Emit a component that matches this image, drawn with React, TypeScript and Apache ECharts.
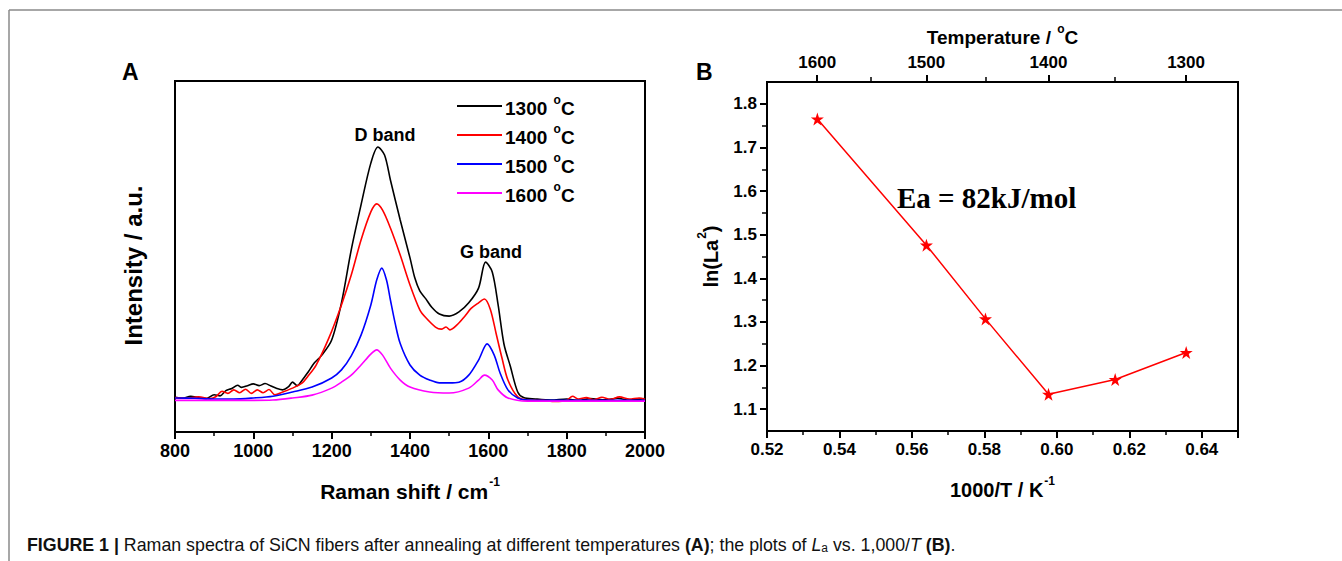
import React, { useEffect, useRef } from "react";
import * as echarts from "echarts";

// ---------- Panel A: Raman spectra (Raman shift cm-1, intensity a.u.) ----------
const spectrum1300: [number, number][] = [
  [800, 9.9], [820, 9.6], [840, 10.2], [860, 9.8], [880, 9.5], [900, 10.6], [915, 10.3],
  [930, 11.8], [945, 12.4], [960, 13.3], [970, 12.7], [985, 13.2], [1000, 13.7], [1015, 13.2],
  [1030, 13.8], [1045, 13.1], [1060, 12.4], [1075, 12.0], [1090, 12.9], [1100, 14.2],
  [1112, 13.2], [1125, 14.8], [1140, 17.1], [1156, 19.7], [1175, 21.9], [1200, 26.2],
  [1225, 36.8], [1250, 51.9], [1275, 64.7], [1300, 76.6], [1318, 81.2], [1335, 78.9],
  [1350, 71.8], [1375, 60.4], [1400, 49.6], [1412, 44.0], [1425, 40.2], [1440, 38.0],
  [1455, 35.6], [1475, 33.6], [1500, 33.0], [1525, 34.2], [1550, 36.8], [1575, 41.0],
  [1593, 48.4], [1610, 45.6], [1625, 36.2], [1640, 25.0], [1656, 18.8], [1675, 11.4],
  [1690, 9.8], [1720, 9.4], [1760, 9.1], [1800, 9.4], [1830, 9.0], [1860, 9.5],
  [1900, 9.2], [1930, 9.6], [1960, 9.1], [2000, 9.5]
];
const spectrum1400: [number, number][] = [
  [800, 9.8], [830, 9.6], [860, 10.0], [890, 9.5], [905, 10.1], [920, 11.6], [935, 11.0],
  [950, 12.0], [965, 11.2], [980, 12.2], [995, 11.0], [1010, 12.0], [1025, 11.2], [1040, 12.1],
  [1055, 10.6], [1075, 11.4], [1100, 12.5], [1125, 14.0], [1138, 15.7], [1160, 19.0],
  [1193, 26.8], [1225, 36.2], [1250, 44.7], [1275, 54.7], [1300, 62.7], [1315, 65.0],
  [1330, 63.2], [1350, 58.1], [1375, 50.4], [1400, 41.9], [1425, 34.8], [1440, 32.6],
  [1465, 29.9], [1480, 29.3], [1492, 29.9], [1502, 29.1], [1520, 30.5], [1540, 33.0],
  [1556, 35.2], [1575, 36.8], [1590, 37.9], [1605, 35.0], [1620, 28.0], [1635, 21.0],
  [1650, 14.8], [1675, 10.0], [1700, 9.1], [1740, 9.0], [1770, 8.7], [1800, 9.0],
  [1815, 10.2], [1830, 9.4], [1850, 9.8], [1870, 9.2], [1890, 9.9], [1910, 9.3],
  [1935, 10.0], [1960, 9.4], [1985, 9.7], [2000, 9.3]
];
const spectrum1500: [number, number][] = [
  [800, 9.7], [850, 9.6], [900, 9.4], [950, 9.4], [1000, 9.7], [1050, 10.2], [1100, 11.4],
  [1150, 12.8], [1200, 15.4], [1225, 17.7], [1250, 21.7], [1275, 27.6], [1300, 36.2],
  [1315, 43.3], [1328, 46.7], [1340, 43.3], [1350, 37.6], [1362, 31.0], [1375, 25.2],
  [1400, 19.1], [1425, 16.2], [1450, 14.8], [1475, 14.0], [1500, 14.0], [1525, 14.2],
  [1550, 16.2], [1575, 20.5], [1597, 25.1], [1615, 21.9], [1630, 16.8], [1650, 12.0],
  [1675, 9.7], [1700, 9.1], [1800, 9.0], [1900, 9.0], [2000, 9.0]
];
const spectrum1600: [number, number][] = [
  [800, 9.0], [900, 9.0], [1000, 9.0], [1050, 9.1], [1100, 9.7], [1150, 10.5], [1200, 12.5],
  [1225, 14.2], [1250, 16.2], [1275, 19.1], [1300, 22.2], [1315, 23.4], [1330, 21.9],
  [1350, 18.2], [1375, 14.8], [1400, 12.8], [1450, 11.4], [1500, 11.1], [1550, 12.5],
  [1575, 14.8], [1590, 16.2], [1610, 14.8], [1625, 12.0], [1650, 9.7], [1700, 8.8],
  [1800, 8.8], [1900, 8.8], [2000, 8.8]
];
const spectraNames = ["1300", "1400", "1500", "1600"];
const spectraColors = ["#000000", "#ff0000", "#0000ff", "#ff00ff"];
const ramanTicks = [800, 1000, 1200, 1400, 1600, 1800, 2000];

// ---------- Panel B: ln(La^2) vs 1000/T ----------
const inverseT = [0.5339, 0.564, 0.5803, 0.5977, 0.6161, 0.6357];
const lnLa2 = [1.765, 1.476, 1.307, 1.134, 1.168, 1.23];
const lnTicks = [1.1, 1.2, 1.3, 1.4, 1.5, 1.6, 1.7, 1.8];
const lnMinorTicks = [1.15, 1.25, 1.35, 1.45, 1.55, 1.65, 1.75];
const tempTicks = [1600, 1500, 1400, 1300];
const tempMinorTicks = [1550, 1450, 1350];

const toInv = (t: number) => 1000 / (t + 273.15);

const SANS = '"Liberation Sans", Arial, sans-serif';
const SERIF = '"Liberation Serif", "Times New Roman", serif';
const STAR = "path://M50,0 L61.8,35.3 L98.9,35.3 L68.9,57.1 L80.3,92.6 L50,70.7 L19.7,92.6 L31.1,57.1 L1.1,35.3 L38.2,35.3 Z";

export default function App() {
  const ref = useRef<HTMLDivElement>(null);
  useEffect(() => {
    document.body.style.margin = "0";
    const chart = echarts.init(ref.current!, undefined, { renderer: "svg" });
    const black = "#000";
    const lbl = (size: number) => ({ color: black, fontWeight: "bold" as const, fontSize: size, fontFamily: SANS });
    const supRich = (size: number, supSize: number) => ({
      n: { fontSize: size, fontWeight: "bold", fontFamily: SANS, color: black, lineHeight: size + 2, verticalAlign: "bottom" },
      s: { fontSize: supSize, fontWeight: "bold", fontFamily: SANS, color: black, lineHeight: size + 5, verticalAlign: "top", padding: [0, 0, 0, 1] },
    });

    const option: any = {
      animation: false,
      backgroundColor: "#fff",
      grid: [
        { left: 175, top: 81, width: 470, height: 351, show: true, borderColor: black, borderWidth: 2, backgroundColor: "transparent" },
        { left: 767, top: 82, width: 471, height: 349, show: true, borderColor: black, borderWidth: 2, backgroundColor: "transparent" },
      ],
      xAxis: [
        {
          gridIndex: 0, type: "value", min: 800, max: 2000, interval: 200,
          axisLine: { lineStyle: { color: black, width: 2 } },
          axisTick: { length: 7, lineStyle: { color: black, width: 2 } },
          minorTick: { show: true, splitNumber: 2, length: 4, lineStyle: { color: black, width: 1.5 } },
          splitLine: { show: false },
          axisLabel: { ...lbl(18), margin: 10, formatter: (v: number) => (ramanTicks.includes(v) ? String(v) : "") },
          name: "{n|Raman shift / cm}{s|-1}", nameLocation: "middle", nameGap: 44,
          nameTextStyle: { rich: supRich(21, 12) },
        },
        {
          gridIndex: 1, type: "value", min: 0.52, max: 0.65, interval: 0.02,
          axisLine: { lineStyle: { color: black, width: 2 } },
          axisTick: { length: 7, lineStyle: { color: black, width: 2 } },
          minorTick: { show: true, splitNumber: 2, length: 4, lineStyle: { color: black, width: 1.5 } },
          splitLine: { show: false },
          axisLabel: { ...lbl(17), margin: 10, formatter: (v: number) => v.toFixed(2), showMaxLabel: false },
          name: "{n|1000/T / K}{s|-1}", nameLocation: "middle", nameGap: 44,
          nameTextStyle: { rich: supRich(20, 12) },
        },
        {
          gridIndex: 1, type: "value", position: "top", min: 0.52, max: 0.65,
          axisLine: { show: true, lineStyle: { color: black, width: 2 } },
          axisTick: { length: 7, customValues: tempTicks.map(toInv), lineStyle: { color: black, width: 2 } },
          splitLine: { show: false },
          axisLabel: {
            ...lbl(17), margin: 11, customValues: tempTicks.map(toInv),
            formatter: (v: number) => String(Math.round((1000 / v - 273.15) / 10) * 10),
          },
          name: "{n|Temperature / }{s|o}{n|C}", nameLocation: "middle", nameGap: 35,
          nameTextStyle: { rich: supRich(19, 12) },
        },
        {
          gridIndex: 1, type: "value", position: "top", min: 0.52, max: 0.65,
          axisLine: { show: false },
          axisTick: { length: 5, customValues: tempMinorTicks.map(toInv), lineStyle: { color: black, width: 1.5 } },
          splitLine: { show: false },
          axisLabel: { show: false },
        },
      ],
      yAxis: [
        {
          gridIndex: 0, type: "value", min: 0, max: 100,
          axisLine: { lineStyle: { color: black, width: 2 } },
          axisTick: { show: false }, axisLabel: { show: false }, splitLine: { show: false },
          name: "Intensity / a.u.", nameLocation: "middle", nameGap: 30,
          nameTextStyle: { ...lbl(24), padding: [0, 18, 0, 0] },
        },
        {
          gridIndex: 1, type: "value", min: 1.05, max: 1.85, position: "left",
          axisLine: { lineStyle: { color: black, width: 2 } },
          axisTick: { length: 7, customValues: lnTicks, lineStyle: { color: black, width: 2 } },
          splitLine: { show: false },
          axisLabel: { ...lbl(17), margin: 10, customValues: lnTicks, formatter: (v: number) => v.toFixed(1) },
          name: "{n|ln(La}{s|2}{n|)}", nameLocation: "middle", nameGap: 46,
          nameTextStyle: { rich: supRich(20, 12) },
        },
        {
          gridIndex: 1, type: "value", min: 1.05, max: 1.85, position: "left", offset: 0,
          axisLine: { show: false },
          axisTick: { length: 5, customValues: lnMinorTicks, lineStyle: { color: black, width: 1.5 } },
          splitLine: { show: false }, axisLabel: { show: false },
        },
      ],
      legend: {
        left: 452, top: 89, orient: "vertical", itemWidth: 45, itemHeight: 2, itemGap: 5,
        icon: "rect",
        data: spectraNames.map((n) => n + " °C"),
        formatter: (name: string) => `{n|${name.split(" ")[0]} }{s|o}{n|C}`,
        textStyle: { rich: supRich(19, 12), padding: [0, 0, 0, -2] },
      },
      series: [
        ...[spectrum1300, spectrum1400, spectrum1500, spectrum1600].map((d, i) => ({
          type: "line", name: spectraNames[i] + " °C", xAxisIndex: 0, yAxisIndex: 0,
          data: d, showSymbol: false, symbol: "none", smooth: 0.3,
          lineStyle: { color: spectraColors[i], width: 1.6 }, itemStyle: { color: spectraColors[i] },
        })),
        {
          type: "line", name: "lnLa2", xAxisIndex: 1, yAxisIndex: 1,
          data: inverseT.map((x, i) => [x, lnLa2[i]]),
          symbol: STAR, symbolSize: 13,
          lineStyle: { color: "#ff0000", width: 1.5 }, itemStyle: { color: "#ff0000" },
        },
      ],
      graphic: [
        { type: "line", shape: { x1: 9, y1: 10, x2: 1342, y2: 10 }, style: { stroke: "#8a8a8a", lineWidth: 1.5 } },
        { type: "line", shape: { x1: 9, y1: 10, x2: 9, y2: 561 }, style: { stroke: "#8a8a8a", lineWidth: 1.5 } },
        { type: "text", x: 122, y: 72, style: { text: "A", font: `bold 23px ${SANS}`, fill: black, verticalAlign: "middle" } },
        { type: "text", x: 696, y: 72, style: { text: "B", font: `bold 23px ${SANS}`, fill: black, verticalAlign: "middle" } },
        { type: "text", x: 385, y: 135, style: { text: "D band", font: `bold 18px ${SANS}`, fill: black, align: "center", verticalAlign: "middle" } },
        { type: "text", x: 491, y: 252, style: { text: "G band", font: `bold 18px ${SANS}`, fill: black, align: "center", verticalAlign: "middle" } },
        { type: "text", x: 897, y: 198, style: { text: "Ea = 82kJ/mol", font: `bold 29px ${SERIF}`, fill: black, verticalAlign: "middle" } },
        {
          type: "text", x: 27, y: 544,
          style: {
            text: "{b|FIGURE 1 | }{r|Raman spectra of SiCN fibers after annealing at different temperatures }{b|(A)}{r|; the plots of }{i|L}{sub|a}{r| vs. 1,000/}{i|T}{r| }{b|(B)}{r|.}",
            verticalAlign: "middle",
            rich: {
              b: { font: `bold 17.8px ${SANS}`, fill: "#111", verticalAlign: "bottom", lineHeight: 20 },
              r: { font: `17.8px ${SANS}`, fill: "#111", verticalAlign: "bottom", lineHeight: 20 },
              i: { font: `italic 17.8px ${SANS}`, fill: "#111", verticalAlign: "bottom", lineHeight: 20 },
              sub: { font: `12px ${SANS}`, fill: "#111", verticalAlign: "bottom", lineHeight: 16 },
            },
          },
        },
      ],
    };
    chart.setOption(option);
    return () => chart.dispose();
  }, []);
  return <div ref={ref} style={{ position: "absolute", left: 0, top: 0, width: 1342, height: 561 }} />;
}
